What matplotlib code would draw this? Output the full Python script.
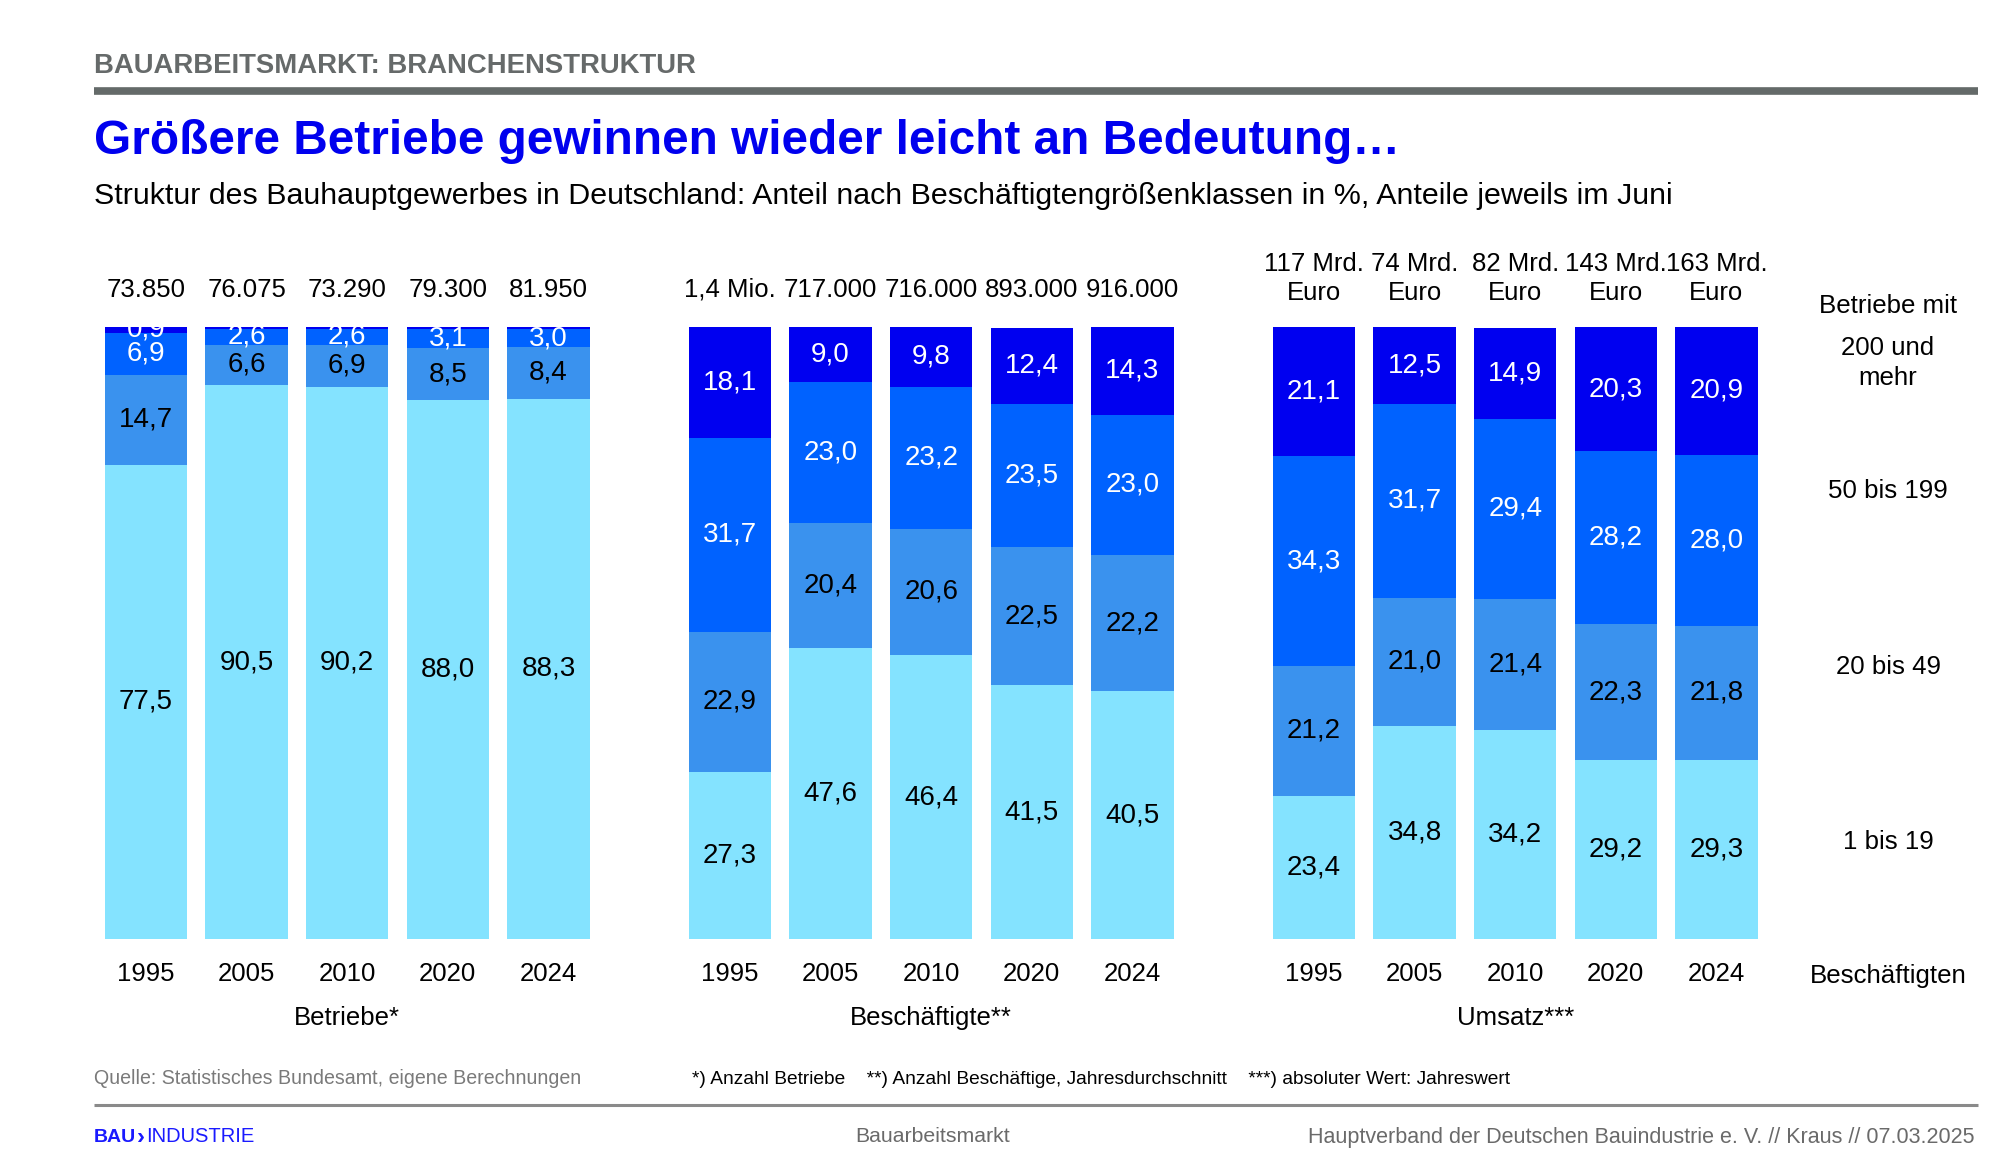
import matplotlib
matplotlib.use("Agg")
import matplotlib.pyplot as plt

plt.rcParams['font.family'] = ['Liberation Sans', 'DejaVu Sans']

# ---------------- data ----------------
years = ["1995", "2005", "2010", "2020", "2024"]
size_classes = ["1 bis 19", "20 bis 49", "50 bis 199", "200 und\nmehr"]

betriebe_1_19 = [77.5, 90.5, 90.2, 88.0, 88.3]
betriebe_20_49 = [14.7, 6.6, 6.9, 8.5, 8.4]
betriebe_50_199 = [6.9, 2.6, 2.6, 3.1, 3.0]
betriebe_200 = [0.9, 0.3, 0.3, 0.4, 0.3]
betriebe_totals = ["73.850", "76.075", "73.290", "79.300", "81.950"]

besch_1_19 = [27.3, 47.6, 46.4, 41.5, 40.5]
besch_20_49 = [22.9, 20.4, 20.6, 22.5, 22.2]
besch_50_199 = [31.7, 23.0, 23.2, 23.5, 23.0]
besch_200 = [18.1, 9.0, 9.8, 12.4, 14.3]
besch_totals = ["1,4 Mio.", "717.000", "716.000", "893.000", "916.000"]

umsatz_1_19 = [23.4, 34.8, 34.2, 29.2, 29.3]
umsatz_20_49 = [21.2, 21.0, 21.4, 22.3, 21.8]
umsatz_50_199 = [34.3, 31.7, 29.4, 28.2, 28.0]
umsatz_200 = [21.1, 12.5, 14.9, 20.3, 20.9]
umsatz_totals = ["117 Mrd.\nEuro", "74 Mrd.\nEuro", "82 Mrd.\nEuro", "143 Mrd.\nEuro", "163 Mrd.\nEuro"]

group_names = ["Betriebe*", "Beschäftigte**", "Umsatz***"]

# ---------------- style ----------------
seg_colors = ["#84e3ff", "#3a92ee", "#0062ff", "#0000f0"]
lab_colors = ["black", "black", "white", "white"]
W, H = 2000, 1159


def fx(x):
    return x / W


def fy(y):
    return 1 - y / H


fig = plt.figure(figsize=(20, 11.59), dpi=100)

groups = [
    ([betriebe_1_19, betriebe_20_49, betriebe_50_199, betriebe_200], betriebe_totals, 30),
    ([besch_1_19, besch_20_49, besch_50_199, besch_200], besch_totals, 30),
    ([umsatz_1_19, umsatz_20_49, umsatz_50_199, umsatz_200], umsatz_totals, 27),
]
ax_lefts = [95.7, 679.7, 1263.7]
ax_w = 503
ax_top, ax_bot = 327, 939

bar_w = 0.82
for g, (series, totals, toff) in enumerate(groups):
    ax = fig.add_axes([fx(ax_lefts[g]), fy(ax_bot), fx(ax_w), (ax_bot - ax_top) / H])
    ax.set_xlim(-0.5, 4.5)
    ax.set_ylim(0, 100)
    ax.axis("off")
    xs = list(range(len(years)))
    bottoms = [0.0] * len(years)
    for k, vals in enumerate(series):
        ax.bar(xs, vals, bottom=bottoms, width=bar_w, color=seg_colors[k], linewidth=0)
        for i, v in enumerate(vals):
            if v >= 0.5:
                ax.text(xs[i], bottoms[i] + v / 2, f"{v:.1f}".replace(".", ","),
                        ha="center", va="center", fontsize=20, color=lab_colors[k],
                        clip_on=True)
        bottoms = [b + v for b, v in zip(bottoms, vals)]
    for i, t in enumerate(totals):
        ax.annotate(t, (xs[i], 100), xytext=(0, toff), textcoords="offset pixels",
                    ha="center", va="baseline", fontsize=18.5, linespacing=1.25,
                    annotation_clip=False)
    for i, y in enumerate(years):
        ax.annotate(y, (xs[i], 0), xytext=(0, -35), textcoords="offset pixels",
                    ha="center", va="center", fontsize=18.5, annotation_clip=False)
    ax.annotate(group_names[g], (2, 0), xytext=(0, -79), textcoords="offset pixels",
                ha="center", va="center", fontsize=18.5, annotation_clip=False)

# ---------------- right legend ----------------
leg_x = 1888
fig.text(fx(leg_x), fy(306), "Betriebe mit", ha="center", va="center", fontsize=18.6)
leg_y = [842, 667, 491, 363]
for lab, yy in zip(size_classes, leg_y):
    fig.text(fx(leg_x), fy(yy), lab, ha="center", va="center", fontsize=18.6, linespacing=1.3)
fig.text(fx(leg_x), fy(976), "Beschäftigten", ha="center", va="center", fontsize=18.6)

# ---------------- header ----------------
fig.text(fx(94), fy(66), "BAUARBEITSMARKT: BRANCHENSTRUKTUR", ha="left", va="center",
         fontsize=19.8, fontweight="bold", color="#666a6a")
fig.add_artist(plt.Line2D([fx(94), fx(1978)], [fy(90.5), fy(90.5)], color="#646a69", lw=5.5,
                          solid_capstyle="butt"))
fig.text(fx(94), fy(142), "Größere Betriebe gewinnen wieder leicht an Bedeutung…", ha="left",
         va="center", fontsize=34.4, fontweight="bold", color="#0000ee")
fig.text(fx(94), fy(196), "Struktur des Bauhauptgewerbes in Deutschland: Anteil nach "
         "Beschäftigtengrößenklassen in %, Anteile jeweils im Juni", ha="left", va="center",
         fontsize=21.9, color="black")

# ---------------- footnotes ----------------
fig.text(fx(94), fy(1079), "Quelle: Statistisches Bundesamt, eigene Berechnungen", ha="left",
         va="center", fontsize=14.1, color="#7a7a7a")
fig.text(fx(692), fy(1079), "*) Anzahl Betriebe    **) Anzahl Beschäftige, Jahresdurchschnitt    "
         "***) absoluter Wert: Jahreswert", ha="left", va="center", fontsize=13.8, color="black")
fig.add_artist(plt.Line2D([fx(94), fx(1978)], [fy(1105), fy(1105)], color="#8a8a8a", lw=2.2,
                          solid_capstyle="butt"))

# footer
t1 = fig.text(fx(94), fy(1137), "BAU", ha="left", va="center", fontsize=14, fontweight="bold",
              color="#1a1aff")
fig.canvas.draw()
bb = t1.get_window_extent()
t2 = fig.text((bb.x1 + 1) / W, fy(1137), "›", ha="left", va="center", fontsize=17,
              fontweight="bold", color="#1a1aff")
fig.canvas.draw()
bb2 = t2.get_window_extent()
fig.text((bb2.x1 + 1) / W, fy(1137), "INDUSTRIE", ha="left", va="center", fontsize=14.5,
         color="#1a1aff")
fig.text(fx(933), fy(1137), "Bauarbeitsmarkt", ha="center", va="center", fontsize=15.3,
         color="#6a6a6a")
fig.text(fx(1974), fy(1137), "Hauptverband der Deutschen Bauindustrie e. V. // Kraus // 07.03.2025",
         ha="right", va="center", fontsize=15.5, color="#6a6a6a")

fig.savefig("out.png", dpi=100)
